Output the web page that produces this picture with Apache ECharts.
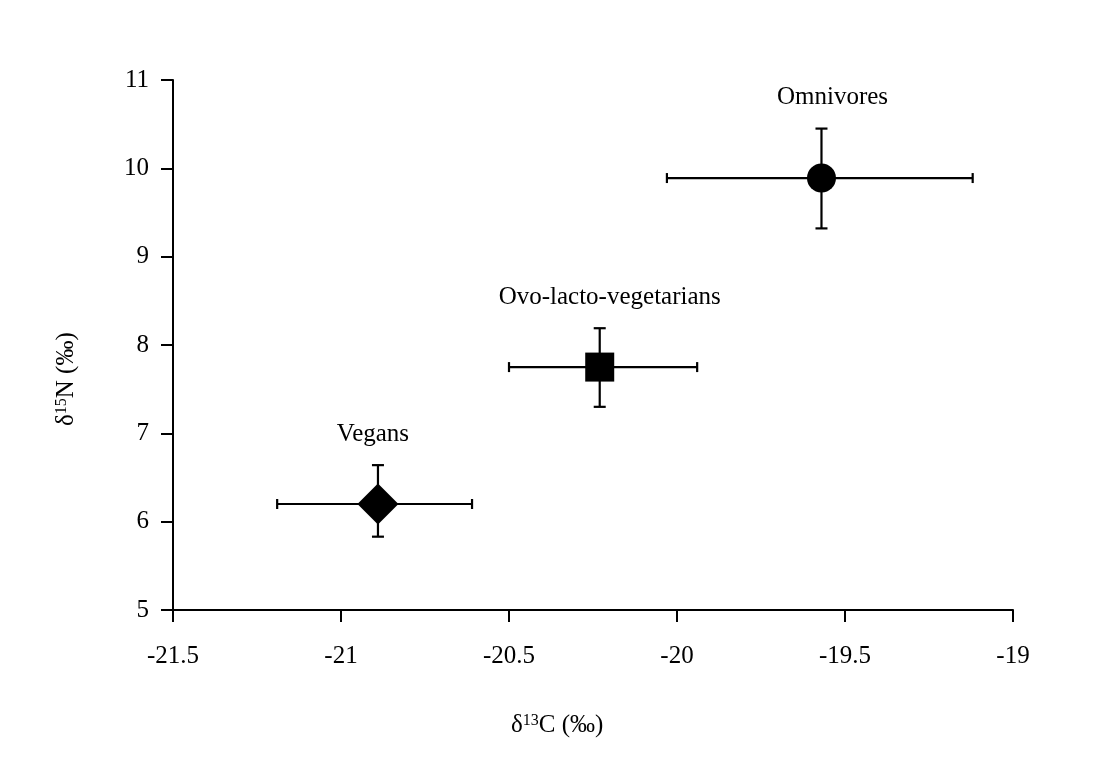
<!DOCTYPE html>
<html>
<head>
<meta charset="utf-8">
<script src="https://cdn.jsdelivr.net/npm/echarts@6/dist/echarts.min.js"></script>
<style>html,body{margin:0;padding:0;background:#fff}#c{width:1102px;height:763px}</style>
</head>
<body>
<div id="c"></div>
<script>
// Data
var groups = ['Omnivores', 'Ovo-lacto-vegetarians', 'Vegans'];
var d13C = [-19.57, -20.23, -20.89];
var d13C_lo = [-20.03, -20.50, -21.19];
var d13C_hi = [-19.12, -19.94, -20.61];
var d15N = [9.89, 7.75, 6.20];
var d15N_lo = [9.32, 7.30, 5.83];
var d15N_hi = [10.45, 8.19, 6.64];
var symbols = ['circle', 'rect', 'diamond'];
var xTicks = [-21.5, -21, -20.5, -20, -19.5, -19];
var yTicks = [5, 6, 7, 8, 9, 10, 11];

var FONT = '"Liberation Serif", "Times New Roman", serif';
var FS = 25;
var chart = echarts.init(document.getElementById('c'));

var errData = groups.map(function (g, i) {
  return [d13C[i], d15N[i], d13C_lo[i], d13C_hi[i], d15N_lo[i], d15N_hi[i], i];
});
var symSizes = { circle: 29, rect: 29, diamond: 41 };
var labelDx = [11, 10, -5];

var option = {
  backgroundColor: '#fff',
  animation: false,
  grid: { left: 173, right: 89, top: 80, bottom: 153 },
  xAxis: {
    type: 'value', min: xTicks[0], max: xTicks[xTicks.length - 1], interval: 0.5,
    axisLine: { lineStyle: { color: '#000', width: 2 } },
    axisTick: { length: 12, lineStyle: { color: '#000', width: 2 } },
    splitLine: { show: false },
    axisLabel: { color: '#000', fontFamily: FONT, fontSize: FS, margin: 34,
      formatter: function (v) { return String(v); } }
  },
  yAxis: {
    type: 'value', min: yTicks[0], max: yTicks[yTicks.length - 1], interval: 1,
    axisLine: { show: true, lineStyle: { color: '#000', width: 2 } },
    axisTick: { show: true, length: 12, lineStyle: { color: '#000', width: 2 } },
    splitLine: { show: false },
    axisLabel: { color: '#000', fontFamily: FONT, fontSize: FS, margin: 24 }
  },
  graphic: [
    {
      type: 'text', left: 511, top: 713,
      style: {
        text: '{a|δ}{s|13}{a|C (‰)}',
        rich: {
          a: { fontFamily: FONT, fontSize: FS, fill: '#000' },
          s: { fontFamily: FONT, fontSize: 16, fill: '#000', verticalAlign: 'top', padding: [0, 0, 9, 0] }
        }
      }
    },
    {
      type: 'text', x: 54, y: 426, rotation: Math.PI / 2,
      style: {
        text: '{a|δ}{s|15}{a|N (‰)}',
        rich: {
          a: { fontFamily: FONT, fontSize: FS, fill: '#000' },
          s: { fontFamily: FONT, fontSize: 16, fill: '#000', verticalAlign: 'top', padding: [0, 0, 9, 0] }
        }
      }
    }
  ],
  series: [
    {
      type: 'custom',
      data: errData,
      renderItem: function (params, api) {
        var c = api.coord([api.value(0), api.value(1)]);
        var xl = api.coord([api.value(2), api.value(1)]);
        var xh = api.coord([api.value(3), api.value(1)]);
        var yl = api.coord([api.value(0), api.value(4)]);
        var yh = api.coord([api.value(0), api.value(5)]);
        var idx = api.value(6);
        var st = { stroke: '#000', lineWidth: 2.2 };
        return {
          type: 'group',
          children: [
            { type: 'line', shape: { x1: xl[0], y1: c[1], x2: xh[0], y2: c[1] }, style: st },
            { type: 'line', shape: { x1: xl[0], y1: c[1] - 5, x2: xl[0], y2: c[1] + 5 }, style: st },
            { type: 'line', shape: { x1: xh[0], y1: c[1] - 5, x2: xh[0], y2: c[1] + 5 }, style: st },
            { type: 'line', shape: { x1: c[0], y1: yl[1], x2: c[0], y2: yh[1] }, style: st },
            { type: 'line', shape: { x1: c[0] - 6, y1: yl[1], x2: c[0] + 6, y2: yl[1] }, style: st },
            { type: 'line', shape: { x1: c[0] - 6, y1: yh[1], x2: c[0] + 6, y2: yh[1] }, style: st },
            { type: 'text', style: { x: c[0] + labelDx[idx], y: yh[1] - 31, text: groups[idx],
              fontFamily: FONT, fontSize: FS, fill: '#000', align: 'center', verticalAlign: 'middle' } }
          ]
        };
      },
      z: 1
    },
    {
      type: 'scatter',
      data: groups.map(function (g, i) {
        return { value: [d13C[i], d15N[i]], symbol: symbols[i], symbolSize: symSizes[symbols[i]] };
      }),
      itemStyle: { color: '#000', opacity: 1 },
      z: 2
    }
  ]
};
chart.setOption(option);
</script>
</body>
</html>
